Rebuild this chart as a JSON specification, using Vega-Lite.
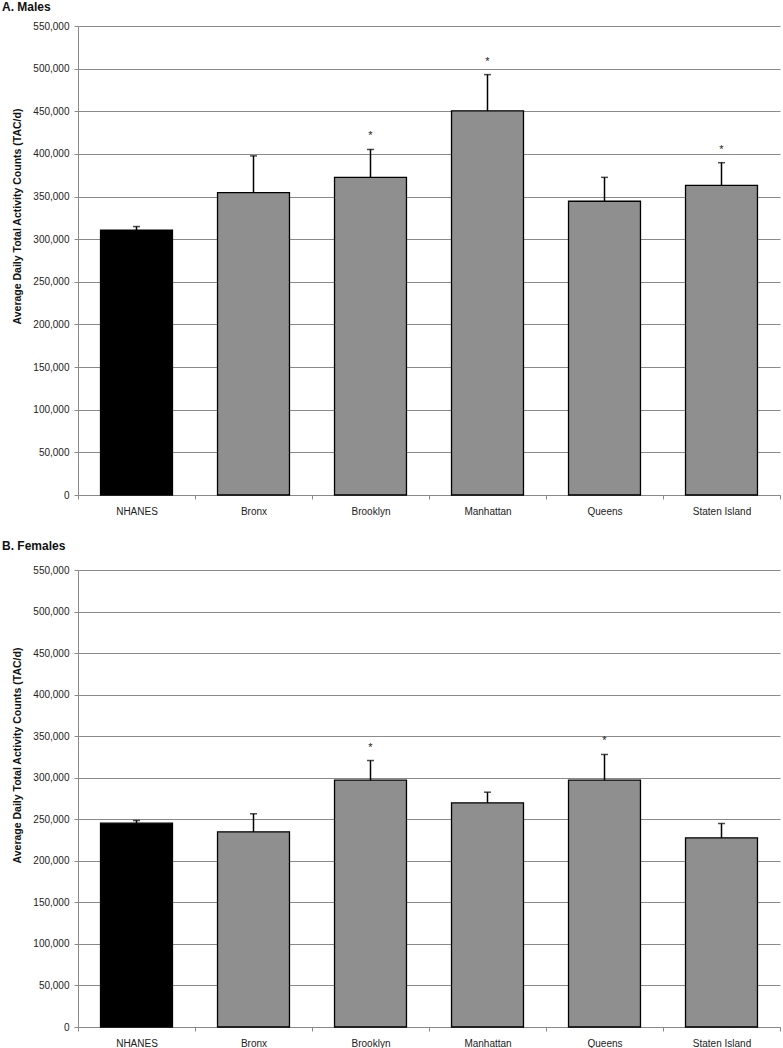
{
  "$schema": "https://vega.github.io/schema/vega-lite/v6.json",
  "padding": {"left": 2, "top": 1, "right": 0, "bottom": 0},
  "background": "white",
  "config": {
    "font": "Liberation Sans",
    "view": {"stroke": null},
    "title": {"anchor": "start", "frame": "bounds", "fontSize": 12, "fontWeight": "bold", "color": "#111"},
    "axis": {"labelFontSize": 10, "labelColor": "#222", "domainColor": "#8a8a8a", "tickColor": "#8a8a8a", "gridColor": "#8a8a8a", "tickSize": 4}
  },
  "datasets": {
    "tac": [
      {"panel": "A", "group": "NHANES", "kind": "ref", "value": 310500, "err": 314800, "sig": ""},
      {"panel": "A", "group": "Bronx", "kind": "boro", "value": 354500, "err": 397700, "sig": ""},
      {"panel": "A", "group": "Brooklyn", "kind": "boro", "value": 372500, "err": 405200, "sig": "*"},
      {"panel": "A", "group": "Manhattan", "kind": "boro", "value": 450500, "err": 493000, "sig": "*"},
      {"panel": "A", "group": "Queens", "kind": "boro", "value": 344500, "err": 372500, "sig": ""},
      {"panel": "A", "group": "Staten Island", "kind": "boro", "value": 363000, "err": 389700, "sig": "*"},
      {"panel": "B", "group": "NHANES", "kind": "ref", "value": 245300, "err": 248500, "sig": ""},
      {"panel": "B", "group": "Bronx", "kind": "boro", "value": 234900, "err": 256600, "sig": ""},
      {"panel": "B", "group": "Brooklyn", "kind": "boro", "value": 297000, "err": 320700, "sig": "*"},
      {"panel": "B", "group": "Manhattan", "kind": "boro", "value": 269800, "err": 282600, "sig": ""},
      {"panel": "B", "group": "Queens", "kind": "boro", "value": 297000, "err": 328000, "sig": "*"},
      {"panel": "B", "group": "Staten Island", "kind": "boro", "value": 227700, "err": 244900, "sig": ""}
    ]
  },
  "vconcat": [
    {
      "title": {"text": "A. Males", "dx": -10, "offset": 7},
      "width": 702,
      "height": 469,
      "data": {"name": "tac"},
      "transform": [{"filter": "datum.panel === 'A'"}],
      "encoding": {
        "x": {"field": "group", "type": "nominal", "sort": null,
          "scale": {"paddingInner": 0, "paddingOuter": 0},
          "axis": {"title": null, "labelAngle": 0, "tickBand": "extent", "labelPadding": 7, "grid": false}}
      },
      "layer": [
        {"mark": {"type": "bar", "width": {"band": 0.615}, "stroke": "#000", "strokeWidth": 1.3},
          "encoding": {
            "y": {"field": "value", "type": "quantitative",
              "scale": {"domain": [0, 550000], "nice": false},
              "axis": {"title": "Average Daily Total Activity Counts (TAC/d)", "titleFontSize": 10.5, "titleFontWeight": "bold", "titleColor": "#111",
                "titleX": -61, "titleY": 190, "titleBaseline": "middle", "titleAlign": "center", "titleAngle": -90,
                "values": [0, 50000, 100000, 150000, 200000, 250000, 300000, 350000, 400000, 450000, 500000, 550000],
                "format": ",d", "grid": true, "labelPadding": 5}},
            "color": {"field": "kind", "type": "nominal", "scale": {"domain": ["ref", "boro"], "range": ["#000000", "#8f8f8f"]}, "legend": null}
          }},
        {"mark": {"type": "rule", "color": "#000", "strokeWidth": 1.5},
          "encoding": {"y": {"field": "value", "type": "quantitative"}, "y2": {"field": "err"}}},
        {"mark": {"type": "tick", "color": "#000", "thickness": 1.5, "size": 7},
          "encoding": {"y": {"field": "err", "type": "quantitative"}}},
        {"transform": [{"filter": "datum.sig === '*'"}],
          "mark": {"type": "text", "fontSize": 11, "dy": -13, "color": "#222", "baseline": "middle"},
          "encoding": {"y": {"field": "err", "type": "quantitative"}, "text": {"field": "sig"}}}
      ]
    },
    {
      "title": {"text": "B. Females", "dx": -10, "offset": 12},
      "width": 702,
      "height": 457,
      "data": {"name": "tac"},
      "transform": [{"filter": "datum.panel === 'B'"}],
      "encoding": {
        "x": {"field": "group", "type": "nominal", "sort": null,
          "scale": {"paddingInner": 0, "paddingOuter": 0},
          "axis": {"title": null, "labelAngle": 0, "tickBand": "extent", "labelPadding": 7, "grid": false}}
      },
      "layer": [
        {"mark": {"type": "bar", "width": {"band": 0.615}, "stroke": "#000", "strokeWidth": 1.3},
          "encoding": {
            "y": {"field": "value", "type": "quantitative",
              "scale": {"domain": [0, 550000], "nice": false},
              "axis": {"title": "Average Daily Total Activity Counts (TAC/d)", "titleFontSize": 10.5, "titleFontWeight": "bold", "titleColor": "#111",
                "titleX": -61, "titleY": 185, "titleBaseline": "middle", "titleAlign": "center", "titleAngle": -90,
                "values": [0, 50000, 100000, 150000, 200000, 250000, 300000, 350000, 400000, 450000, 500000, 550000],
                "format": ",d", "grid": true, "labelPadding": 5}},
            "color": {"field": "kind", "type": "nominal", "scale": {"domain": ["ref", "boro"], "range": ["#000000", "#8f8f8f"]}, "legend": null}
          }},
        {"mark": {"type": "rule", "color": "#000", "strokeWidth": 1.5},
          "encoding": {"y": {"field": "value", "type": "quantitative"}, "y2": {"field": "err"}}},
        {"mark": {"type": "tick", "color": "#000", "thickness": 1.5, "size": 7},
          "encoding": {"y": {"field": "err", "type": "quantitative"}}},
        {"transform": [{"filter": "datum.sig === '*'"}],
          "mark": {"type": "text", "fontSize": 11, "dy": -13, "color": "#222", "baseline": "middle"},
          "encoding": {"y": {"field": "err", "type": "quantitative"}, "text": {"field": "sig"}}}
      ]
    }
  ],
  "spacing": 24
}
